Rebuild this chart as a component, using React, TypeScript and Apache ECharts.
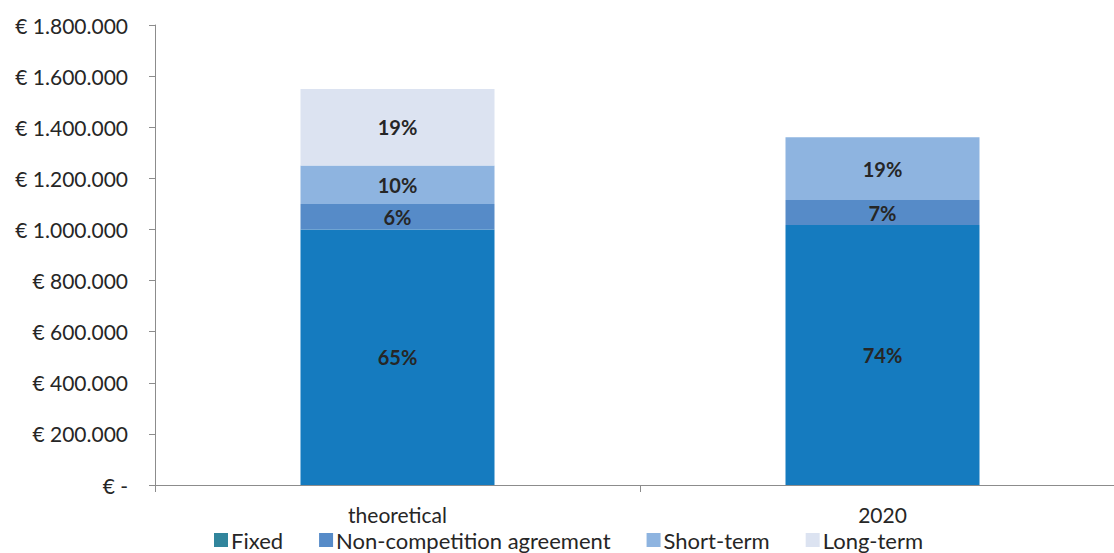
import React, { useEffect, useRef } from "react";
import * as echarts from "echarts";

const categories = ["theoretical", "2020"];
const fixedValues = [1000000, 1017000];
const nonCompValues = [100000, 98000];
const shortTermValues = [150000, 246000];
const longTermValues: (number | null)[] = [300000, null];

const fixedLabels = ["65%", "74%"];
const nonCompLabels = ["6%", "7%"];
const shortTermLabels = ["10%", "19%"];
const longTermLabels = ["19%", ""];

const yTickValues = [0, 200000, 400000, 600000, 800000, 1000000, 1200000, 1400000, 1600000, 1800000];

const FONT = "Lato, 'Open Sans', sans-serif";

function fmt(v: number): string {
  if (v === 0) return "€ -";
  return "€ " + String(Math.round(v)).replace(/\B(?=(\d{3})+(?!\d))/g, ".");
}

export default function App() {
  const ref = useRef<HTMLDivElement>(null);
  useEffect(() => {
    document.body.style.margin = "0";
    const chart = echarts.init(ref.current!, null, { renderer: "svg" });
    const mkSeries = (name: string, data: (number | null)[], labels: string[], color: string) => ({
      name,
      type: "bar",
      stack: "total",
      barWidth: "40%",
      data,
      itemStyle: { color },
      label: {
        show: true,
        position: "inside",
        fontFamily: FONT,
        fontSize: 20,
        fontWeight: "bold",
        color: "#262626",
        formatter: (p: any) => labels[p.dataIndex] || "",
      },
    });
    chart.setOption({
      animation: false,
      grid: { left: 155, right: 5, top: 25, height: 460, containLabel: false, outerBoundsMode: "none" },
      legend: {
        bottom: -3,
        left: 209,
        itemWidth: 14,
        itemHeight: 14,
        itemGap: 36,
        icon: "rect",
        textStyle: { fontFamily: FONT, fontSize: 22, color: "#262626", padding: [0, 0, 0, -2] },
        data: [
          { name: "Fixed", itemStyle: { color: "#31859C" } },
          { name: "Non-competition agreement", itemStyle: { color: "#568BC8" } },
          { name: "Short-term", itemStyle: { color: "#8EB4E0" } },
          { name: "Long-term", itemStyle: { color: "#DCE3F1" } },
        ],
      },
      xAxis: {
        type: "category",
        data: categories,
        axisLine: { lineStyle: { color: "#8C8C8C", width: 1 } },
        axisTick: { show: true, length: 7, lineStyle: { color: "#8C8C8C" } },
        axisLabel: { fontFamily: FONT, fontSize: 21, color: "#262626", margin: 19 },
      },
      yAxis: {
        type: "value",
        min: 0,
        max: 1800000,
        interval: 200000,
        splitLine: { show: false },
        axisLine: { show: true, lineStyle: { color: "#8C8C8C", width: 1 } },
        axisTick: { show: true, length: 6, lineStyle: { color: "#8C8C8C" } },
        axisLabel: {
          fontFamily: FONT,
          fontSize: 21,
          color: "#262626",
          margin: 27,
          formatter: (v: number) => (yTickValues.includes(v) ? fmt(v) : ""),
        },
      },
      series: [
        mkSeries("Fixed", fixedValues, fixedLabels, "#157BBF"),
        mkSeries("Non-competition agreement", nonCompValues, nonCompLabels, "#568BC8"),
        mkSeries("Short-term", shortTermValues, shortTermLabels, "#8EB4E0"),
        mkSeries("Long-term", longTermValues, longTermLabels, "#DCE3F1"),
      ],
    });
    return () => chart.dispose();
  }, []);
  return (
    <div style={{ width: 1114, height: 553, overflow: "hidden" }}>
      <div ref={ref} style={{ width: 1130, height: 553 }} />
    </div>
  );
}
